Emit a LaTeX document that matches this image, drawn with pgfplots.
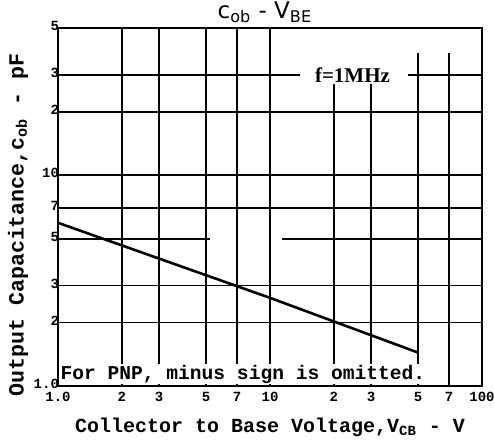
\documentclass[border=0pt]{standalone}
\usepackage{fontspec}
\setmainfont{Liberation Serif}
\newfontfamily\monof{Liberation Mono}
\newfontfamily\sansf{DejaVu Sans}
\usepackage{pgfplots}
\pgfplotsset{compat=1.18}
\begin{document}
\begin{tikzpicture}
\useasboundingbox (-29pt,-30pt) rectangle (218pt,193pt);
\begin{axis}[
  at={(0,0)}, anchor=south west,
  width=212pt, height=179pt, scale only axis,
  clip=false,
  xmode=log, ymode=log,
  xmin=1, xmax=100, ymin=1, ymax=50,
  axis line style={line width=1pt},
  xtick={1,2,3,5,7,10,20,30,50,70,100},
  xticklabels={1.0,2,3,5,7,10,2,3,5,7,100},
  ytick={1,2,3,5,7,10,20,30,50},
  yticklabels={1.0,2,3,5,7,10,2,3,5},
  minor xtick={}, minor ytick={},
  tick style={draw=none},
  ticklabel style={font=\monof\bfseries\fontsize{7}{7}\selectfont},
  xticklabel style={yshift=0.5pt},
  yticklabel style={xshift=4pt, yshift=1pt},
  xlabel={Collector to Base Voltage,V\textsubscript{CB} - V},
  xlabel style={font=\monof\bfseries\fontsize{10}{11}\selectfont, at={(rel axis cs:0.5,0)}, anchor=base, yshift=-23pt},
  ylabel={Output Capacitance,c\textsubscript{ob} - pF},
  ylabel style={font=\monof\bfseries\fontsize{10.8}{11}\selectfont, at={(rel axis cs:0,0.45)}, anchor=center, yshift=20pt},
]
% grid lines (scanned-sheet style)
\draw[line width=0.8pt] (axis cs:2,1) -- (axis cs:2,50);
\draw[line width=0.8pt] (axis cs:3,1) -- (axis cs:3,50);
\draw[line width=0.8pt] (axis cs:5,1) -- (axis cs:5,50);
\draw[line width=0.8pt] (axis cs:7,1) -- (axis cs:7,50);
\draw[line width=0.8pt] (axis cs:10,1) -- (axis cs:10,50);
\draw[line width=0.8pt] (axis cs:20,1) -- (axis cs:20,28);
\draw[line width=0.8pt] (axis cs:30,1) -- (axis cs:30,27);
\draw[line width=0.8pt] (axis cs:50,1) -- (axis cs:50,38);
\draw[line width=0.8pt] (axis cs:70,1) -- (axis cs:70,38);
\draw[line width=0.8pt] (axis cs:1,2) -- (axis cs:100,2);
\draw[line width=0.8pt] (axis cs:1,3) -- (axis cs:100,3);
\draw[line width=0.8pt] (axis cs:1,7) -- (axis cs:100,7);
\draw[line width=0.8pt] (axis cs:1,10) -- (axis cs:100,10);
\draw[line width=0.8pt] (axis cs:1,20) -- (axis cs:100,20);
\draw[line width=0.8pt] (axis cs:1,30) -- (axis cs:13.9,30);
\draw[line width=0.8pt] (axis cs:44.7,30) -- (axis cs:100,30);
\draw[line width=0.8pt] (axis cs:1,5) -- (axis cs:5.2,5);
\draw[line width=0.8pt] (axis cs:11.4,5) -- (axis cs:100,5);
\addplot[black, line width=1.3pt] coordinates {(1,5.95) (10,2.62) (50,1.44)};
\node[font=\sansf\fontsize{11.5}{12}\selectfont, anchor=base] at (rel axis cs:0.488,1) [yshift=4.5pt] {c\textsubscript{ob} - V\textsubscript{BE}};
\node[font=\bfseries\fontsize{10.5}{11}\selectfont, fill=white, inner sep=1pt] at (axis cs:24.5,30) {f=1MHz};
\node[font=\monof\bfseries\fontsize{9.8}{10}\selectfont, fill=white, inner sep=0.5pt, anchor=south west] at (rel axis cs:0,0) [yshift=0.6pt, xshift=0.6pt] {For PNP, minus sign is omitted.};
\end{axis}
\end{tikzpicture}
\end{document}
